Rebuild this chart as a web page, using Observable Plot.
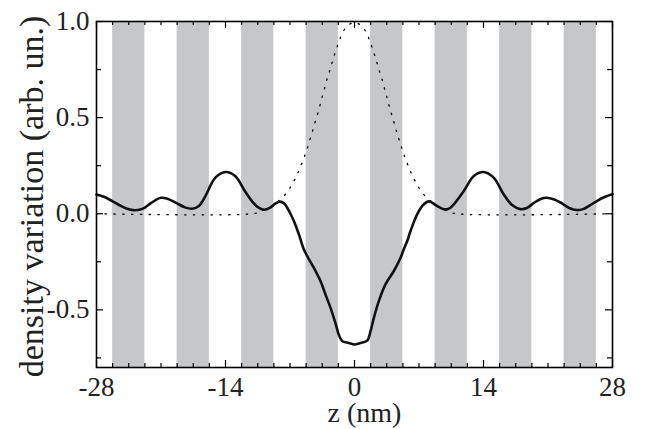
<!DOCTYPE html>
<html>
<head>
<meta charset="utf-8">
<script src="https://cdn.jsdelivr.net/npm/d3@7"></script>
<script src="https://cdn.jsdelivr.net/npm/@observablehq/plot@0.6"></script>
<style>
  html, body { margin: 0; padding: 0; background: #fff; }
</style>
</head>
<body>
<div id="chart"></div>
<script>
// ---- data ----
const solidZ = [-28, -27.2, -26.3, -25.5, -24.6, -23.8, -22.9, -22.1, -21.0, -20.2, -19.3, -18.4, -17.6, -16.9, -16.2, -15.1, -14.0, -12.95, -11.9, -11.0, -10.4, -9.8, -9.2, -8.6, -8.1, -7.6, -7.3, -6.95, -6.58, -6.04, -5.5, -5.14, -4.42, -3.69, -3.15, -2.6, -2.06, -1.7, -1.34, -0.62, 0, 0.65, 1.38, 1.74, 2.1, 2.64, 3.36, 4.27, 5.0, 5.35, 5.72, 6.08, 6.8, 7.52, 8.07, 8.98, 9.7, 10.3, 10.78, 11.86, 12.95, 14.0, 15.1, 16.2, 17.1, 18.0, 18.7, 19.5, 20.2, 20.9, 21.6, 22.4, 23.3, 24.1, 24.8, 25.5, 26.3, 27.2, 28];
const solidV = [0.100, 0.088, 0.066, 0.044, 0.024, 0.018, 0.028, 0.055, 0.083, 0.076, 0.055, 0.033, 0.026, 0.040, 0.090, 0.188, 0.217, 0.196, 0.118, 0.058, 0.032, 0.021, 0.030, 0.052, 0.063, 0.052, 0.031, 0.0, -0.038, -0.107, -0.185, -0.220, -0.281, -0.350, -0.420, -0.490, -0.570, -0.630, -0.662, -0.672, -0.680, -0.672, -0.660, -0.611, -0.542, -0.455, -0.368, -0.298, -0.229, -0.185, -0.142, -0.090, -0.003, 0.049, 0.064, 0.040, 0.023, 0.028, 0.049, 0.118, 0.196, 0.217, 0.188, 0.100, 0.045, 0.024, 0.030, 0.057, 0.077, 0.083, 0.075, 0.057, 0.030, 0.019, 0.024, 0.042, 0.066, 0.088, 0.102];

const dotZ = [-28, -11, -10.3, -9.3, -8.25, -7.35, -6.8, -6.33, -5.94, -5.57, -5.24, -4.96, -4.67, -4.41, -4.16, -3.87, -3.65, -3.4, -3.15, -2.9, -2.6, -2.35, -2.06, -1.74, -1.4, -0.85, 0, 0.85, 1.4, 1.74, 2.06, 2.35, 2.6, 2.9, 3.15, 3.4, 3.65, 3.87, 4.16, 4.41, 4.67, 4.96, 5.24, 5.57, 5.94, 6.33, 6.8, 7.35, 8.25, 9.3, 10.3, 11, 28];
const dotV = [0, 0, 0.010, 0.031, 0.066, 0.109, 0.151, 0.193, 0.236, 0.280, 0.323, 0.367, 0.412, 0.453, 0.497, 0.540, 0.583, 0.625, 0.670, 0.714, 0.757, 0.800, 0.844, 0.888, 0.930, 0.973, 0.995, 0.973, 0.930, 0.888, 0.844, 0.800, 0.757, 0.714, 0.670, 0.625, 0.583, 0.540, 0.497, 0.453, 0.412, 0.367, 0.323, 0.280, 0.236, 0.193, 0.151, 0.109, 0.066, 0.031, 0.010, 0, 0];

const bandStart = [-26.25, -19.25, -12.25, -5.25, 1.75, 8.75, 15.75, 22.75];
const bandEnd   = [-22.75, -15.75, -8.75, -1.75, 5.25, 12.25, 19.25, 26.25];

const xMajorTicks = [-28, -14, 0, 14, 28];
const xMinorTicks = [-26.25, -24.5, -22.75, -21, -19.25, -17.5, -15.75, -12.25, -10.5, -8.75, -7, -5.25, -3.5, -1.75, 1.75, 3.5, 5.25, 7, 8.75, 10.5, 12.25, 15.75, 17.5, 19.25, 21, 22.75, 24.5, 26.25];
const yMajorTicks = [-0.5, 0.0, 0.5, 1.0];
const yMinorTicks = [-0.75, -0.25, 0.25, 0.75];

const xLabel = "z (nm)";
const yLabel = "density variation (arb. un.)";

// ---- build ----
const solid = solidZ.map((z, i) => ({z, v: solidV[i]}));
const dotted = dotZ.map((z, i) => ({z, v: dotV[i]}));
const bands = bandStart.map((s, i) => ({s, e: bandEnd[i]}));

const W = 647, H = 429;
const mL = 96, mR = 35, mT = 21, mB = 62;
const innerW = W - mL - mR, innerH = H - mT - mB;
const majorLen = 7, minorLen = 4;

const chart = Plot.plot({
  width: W, height: H,
  marginLeft: mL, marginRight: mR, marginTop: mT, marginBottom: mB,
  style: {fontFamily: "'Liberation Serif', 'Times New Roman', serif", background: "#fff"},
  x: {domain: [-28, 28], axis: null},
  y: {domain: [-0.8, 1.0], axis: null},
  marks: [
    Plot.rect(bands, {x1: "s", x2: "e", fill: "#c6c7c9"}),
    Plot.line(dotted, {x: "z", y: "v", stroke: "#000", strokeWidth: 1.3, strokeDasharray: "1.4,7.4", curve: "catmull-rom"}),
    Plot.line(solid, {x: "z", y: "v", stroke: "#111", strokeWidth: 2.6, curve: "catmull-rom"}),
    // inward ticks on all four sides
    Plot.ruleX(xMajorTicks, {stroke: "#000", strokeWidth: 1.2, insetTop: innerH - majorLen}),
    Plot.ruleX(xMinorTicks, {stroke: "#000", strokeWidth: 1.2, insetTop: innerH - minorLen}),
    Plot.ruleX(xMajorTicks, {stroke: "#000", strokeWidth: 1.2, insetBottom: innerH - majorLen}),
    Plot.ruleX(xMinorTicks, {stroke: "#000", strokeWidth: 1.2, insetBottom: innerH - minorLen}),
    Plot.ruleY(yMajorTicks, {stroke: "#000", strokeWidth: 1.2, insetRight: innerW - majorLen}),
    Plot.ruleY(yMinorTicks, {stroke: "#000", strokeWidth: 1.2, insetRight: innerW - 5}),
    Plot.ruleY(yMajorTicks, {stroke: "#000", strokeWidth: 1.2, insetLeft: innerW - majorLen}),
    Plot.ruleY(yMinorTicks, {stroke: "#000", strokeWidth: 1.2, insetLeft: innerW - 5}),
    Plot.frame({stroke: "#000", strokeWidth: 1.6}),
    Plot.axisX(xMajorTicks, {anchor: "bottom", tickSize: 0, tickPadding: 9, fontSize: 27, tickFormat: d => String(d), label: null, fill: "#222"}),
    Plot.axisY(yMajorTicks, {anchor: "left", tickSize: 0, tickPadding: 7, fontSize: 27, tickFormat: d => d.toFixed(1), label: null, fill: "#222"}),
    Plot.text([xLabel], {text: d => d, frameAnchor: "bottom", textAnchor: "middle", dx: 10, dy: 46, fontSize: 28, lineAnchor: "middle", fill: "#222"}),
    Plot.text([yLabel], {text: d => d, frameAnchor: "left", textAnchor: "middle", rotate: -90, dx: -64, dy: 2, fontSize: 34, lineAnchor: "middle", fill: "#222"})
  ]
});
document.getElementById("chart").appendChild(chart);
</script>
</body>
</html>
